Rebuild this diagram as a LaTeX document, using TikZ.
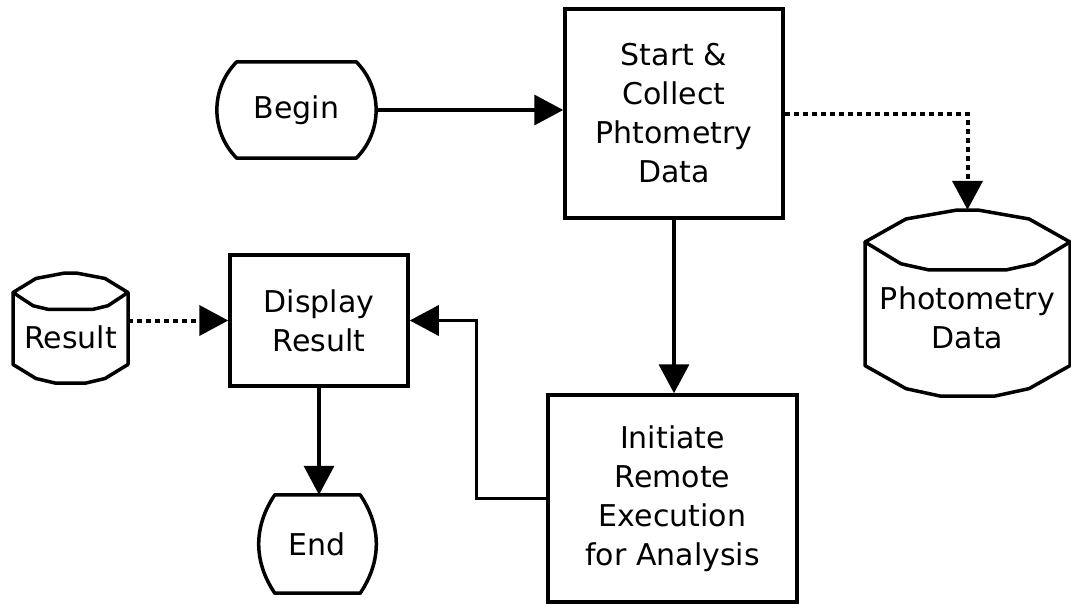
\documentclass[tikz,border=0pt]{standalone}
\usepackage{fontspec}
\setmainfont{DejaVu Sans}
\usetikzlibrary{arrows.meta,calc}
\tikzset{
  shapeline/.style={line width=3.5pt, line join=round},
  lbl/.style={font=\fontsize{30}{39}\selectfont, text=black, inner sep=0pt, align=center},
  procbox/.style={lbl, draw, line width=3.5pt, rectangle},
  plainnode/.style={lbl},
  flow/.style={line width=3.5pt, -{Triangle[length=29pt,width=30pt]}},
  dotflow/.style={flow, line width=4pt, dash pattern=on 5pt off 4pt},
}
% cylinder outline: x0,y0,x1,y1,ry (y downward)
\newcommand{\cylshape}[5]{%
  \pgfmathsetmacro\cxa{(#1+#3)/2}%
  \pgfmathsetmacro\cxh{(#3-#1)/2}%
  \pgfmathsetmacro\yt{#2+#5}%
  \pgfmathsetmacro\yb{#4-0.95*#5}%
  \draw[shapeline]
    ({\cxa-\cxh},\yt) -- ({\cxa-0.6*\cxh},{\yt-0.72*#5}) -- ({\cxa-0.1*\cxh},{\yt-#5})
    -- ({\cxa+0.1*\cxh},{\yt-#5}) -- ({\cxa+0.6*\cxh},{\yt-0.72*#5}) -- ({\cxa+\cxh},\yt)
    -- ({\cxa+0.65*\cxh},{\yt+0.68*#5}) -- ({\cxa+0.38*\cxh},{\yt+0.87*#5})
    -- ({\cxa-0.38*\cxh},{\yt+0.87*#5}) -- ({\cxa-0.65*\cxh},{\yt+0.68*#5}) -- cycle;
  \draw[shapeline]
    ({\cxa-\cxh},\yt) -- ({\cxa-\cxh},\yb) -- ({\cxa-0.6*\cxh},{\yb+0.72*#5}) -- ({\cxa-0.27*\cxh},{\yb+0.95*#5})
    -- ({\cxa+0.27*\cxh},{\yb+0.95*#5}) -- ({\cxa+0.6*\cxh},{\yb+0.72*#5}) -- ({\cxa+\cxh},\yb) -- ({\cxa+\cxh},\yt);
}
% terminal outline: node name, inset, bend angle
\newcommand{\termshape}[3]{%
  \draw[shapeline] ($(#1.north west)+(#2,0)$) -- ($(#1.north east)+(-#2,0)$)
    to[bend left=#3] ($(#1.south east)+(-#2,0)$) -- ($(#1.south west)+(#2,0)$)
    to[bend left=#3] ($(#1.north west)+(#2,0)$) -- cycle;
}
\begin{document}
\begin{tikzpicture}[x=1pt,y=-1pt]
\useasboundingbox[fill=white] (0,0) rectangle (1071,605);

% terminals
\node[plainnode, minimum width=159pt, minimum height=96pt] (begin) at (296.5,110) {Begin};
\termshape{begin}{20}{45}
\node[plainnode, minimum width=115pt, minimum height=98pt] (end) at (317.5,544) {End};
\termshape{end}{15}{34}

% process boxes
\node[procbox, minimum width=218pt, minimum height=209pt] (start) at (674,113.5) {Start \&\\Collect\\Phtometry\\Data};
\node[procbox, minimum width=178pt, minimum height=131pt] (disp) at (319,320.5) {Display\\Result};
\node[procbox, minimum width=249pt, minimum height=207pt] (init) at (672.5,498.5) {Initiate\\Remote\\Execution\\for Analysis};

% data stores
\node[plainnode, minimum width=205pt, minimum height=186pt, text height=90.8pt, text depth=0pt] (pd) at (967.5,303)
  {\begin{tabular}[b]{@{}c@{}}Photometry\\Data\end{tabular}};
\cylshape{865}{210}{1070}{396}{32}
\node[plainnode, minimum width=115pt, minimum height=110pt, text height=41.5pt, text depth=0pt] (res) at (70.5,328) {Result};
\cylshape{13}{273}{128}{383}{19.5}

% connectors
\draw[flow] (begin.east) -- (begin.east -| start.west);
\draw[dotflow] (start.east) -| (pd.north);
\draw[flow] (start.south) -- (start.south |- init.north);
\draw[flow] (init.west) -- ++(-70,0) |- (disp.east);
\draw[dotflow] (res.east |- disp.west) -- (disp.west);
\draw[flow] (disp.south) -- (disp.south |- end.north);
\end{tikzpicture}
\end{document}
